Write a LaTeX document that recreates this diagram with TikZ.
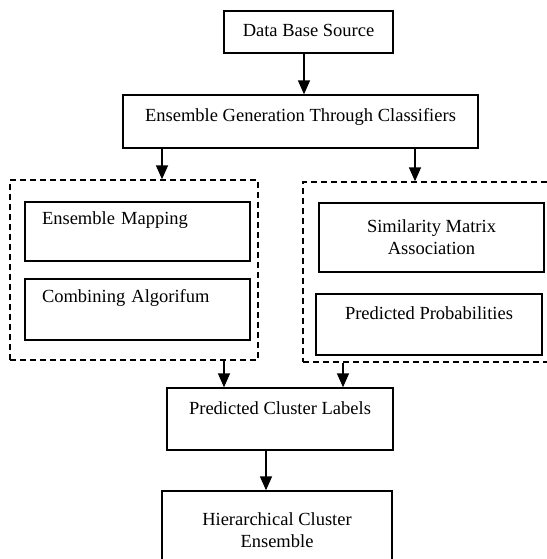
\documentclass[tikz,border=0pt]{standalone}
\usepackage{fontspec}
\setmainfont{Liberation Serif}
\usetikzlibrary{positioning,arrows.meta}
\tikzset{
mybox/.style={
  draw,
  rectangle,
  line width=1.4pt,
  align=center,
  inner sep=0pt,
  font=\fontsize{18.5}{22}\selectfont
},
raised/.style={
  text height=13pt,
  text depth=#1
},
mygroup/.style={
  draw,
  rectangle,
  dash pattern=on 6pt off 4pt,
  line width=1.4pt,
  inner sep=0pt
},
myarrow/.style={line width=1.6pt, -{Triangle[length=14pt,width=12pt]}}
}
\begin{document}
\begin{tikzpicture}[x=1pt, y=-1pt]
  \useasboundingbox (0,0) rectangle (546,559);

  \node[mybox, raised=4pt, minimum width=169pt, minimum height=42pt] (src) at (308.5,32) {Data Base Source};
  \node[mybox, raised=13pt, minimum width=355pt, minimum height=53pt] (gen) at (300.5,121.5) {Ensemble Generation Through Classifiers};

  \node[mygroup, minimum width=248pt, minimum height=180pt] (grpL) at (134,270) {};
  \node[mygroup, minimum width=247pt, minimum height=180pt] (grpR) at (426.5,272) {};

  \node[mybox, raised=27pt, align=left, text width=191pt, inner xsep=17pt, minimum height=59pt] (map) at (137.5,231.5) {Ensemble Mapping};
  \node[mybox, raised=27pt, align=left, text width=191pt, inner xsep=17pt, minimum height=61pt] (comb) at (137.5,309.5) {Combining Algorifum};
  \node[mybox, minimum width=225pt, minimum height=69pt] (sim) at (431.5,237.5) {Similarity Matrix\\Association};
  \node[mybox, raised=23pt, minimum width=226pt, minimum height=61pt] (prob) at (429,324.5) {Predicted Probabilities};

  \node[mybox, raised=22pt, minimum width=226pt, minimum height=62pt] (pcl) at (280,419) {Predicted Cluster Labels};
  \node[mybox, minimum width=230pt, minimum height=79pt] (hce) at (277,530.5) {Hierarchical Cluster\\Ensemble};

  \draw[myarrow] ([xshift=-4.5pt]src.south) coordinate (s1) -- (s1 |- gen.north);
  \draw[myarrow] ([xshift=-138.5pt]gen.south) coordinate (g1) -- (g1 |- grpL.north);
  \draw[myarrow] ([xshift=114.5pt]gen.south) coordinate (g2) -- (g2 |- grpR.north);

  \path ([xshift=-56pt]pcl.north) coordinate (p1)
        ([xshift=63pt]pcl.north) coordinate (p2);
  \draw[myarrow] (p1 |- grpL.south) -- (p1);
  \draw[myarrow] (p2 |- grpR.south) -- (p2);
  \draw[myarrow] ([xshift=-14pt]pcl.south) coordinate (p3) -- (p3 |- hce.north);
\end{tikzpicture}
\end{document}
